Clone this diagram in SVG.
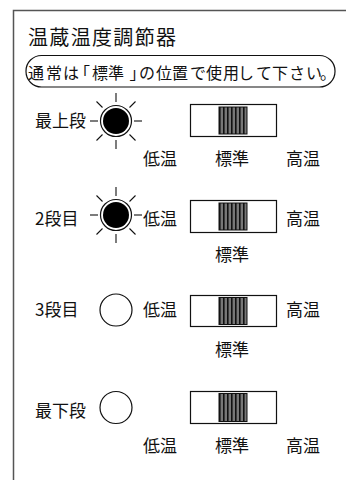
<svg xmlns="http://www.w3.org/2000/svg" width="346" height="480" viewBox="0 0 346 480">
<defs>
<style>
text{font-family:"Noto Sans CJK JP","Noto Sans CJK SC",sans-serif;fill:#111;}
.t17{font-size:17px;}
.frame{fill:none;stroke:#555;stroke-width:1.5;}
.sw{fill:#fff;stroke:#111;stroke-width:1.2;}
.knob{fill:url(#stripes);stroke:#111;stroke-width:1;}
.ray{stroke:#111;stroke-width:1.1;fill:none;}
.lampo{fill:#fff;stroke:#111;stroke-width:1.2;}
</style>
<pattern id="stripes" patternUnits="userSpaceOnUse" x="219" y="0" width="4" height="10">
<rect width="4" height="10" fill="#777"/>
<rect x="0" width="1.6" height="10" fill="#111"/>
</pattern>
<g id="rays">
<line x1="0" y1="-19" x2="0" y2="-28"/>
<line x1="0" y1="19" x2="0" y2="28"/>
<line x1="-18" y1="0" x2="-26" y2="0"/>
<line x1="18" y1="0" x2="26" y2="0"/>
<line x1="-13.5" y1="-13.5" x2="-19.5" y2="-19.5"/>
<line x1="13.5" y1="-13.5" x2="19.5" y2="-19.5"/>
<line x1="-13.5" y1="13.5" x2="-19.5" y2="19.5"/>
<line x1="13.5" y1="13.5" x2="19.5" y2="19.5"/>
</g>
</defs>
<rect width="346" height="480" fill="#fff"/>
<path class="frame" d="M13.5,480 V10.5 H346"/>
<g id="title">
<text x="28" y="45" font-size="20" textLength="148" lengthAdjust="spacing">温蔵温度調節器</text>
</g>
<g id="note">
<rect x="26" y="55.5" width="309" height="31.5" rx="15.5" ry="15.5" fill="none" stroke="#111" stroke-width="1.2"/>
<text y="79" font-size="16" x="28 46 63 74 92 108 129.5 139 156 172 190 206 223 238 256 272 289 306 320">通常は「標準」の位置で使用して下さい。</text>
</g>
<g id="row1">
<text class="t17" x="35" y="127">最上段</text>
<g class="ray" transform="translate(116,121)"><use href="#rays"/></g>
<circle class="lampo" cx="116" cy="121" r="15.5"/>
<circle cx="116" cy="121" r="13" fill="#000"/>
<rect class="sw" x="190.5" y="104.5" width="86" height="32"/>
<rect class="knob" x="219" y="107" width="28" height="27"/>
<text class="t17" x="143" y="165">低温</text>
<text class="t17" x="215" y="165">標準</text>
<text class="t17" x="286" y="165">高温</text>
</g>
<g id="row2">
<text class="t17" x="35" y="225">2段目</text>
<g class="ray" transform="translate(116,215)"><use href="#rays"/></g>
<circle class="lampo" cx="116" cy="215" r="15.5"/>
<circle cx="116" cy="215" r="13" fill="#000"/>
<text class="t17" x="143" y="225">低温</text>
<rect class="sw" x="190.5" y="200.5" width="86" height="32"/>
<rect class="knob" x="219" y="203" width="28" height="27"/>
<text class="t17" x="286" y="225">高温</text>
<text class="t17" x="215" y="261">標準</text>
</g>
<g id="row3">
<text class="t17" x="35" y="316">3段目</text>
<circle class="lampo" cx="116" cy="310" r="16"/>
<text class="t17" x="143" y="316">低温</text>
<rect class="sw" x="190.5" y="295.5" width="86" height="31"/>
<rect class="knob" x="219" y="297.5" width="28" height="27"/>
<text class="t17" x="286" y="316">高温</text>
<text class="t17" x="215" y="356">標準</text>
</g>
<g id="row4">
<text class="t17" x="35" y="417">最下段</text>
<circle class="lampo" cx="116" cy="407.5" r="16"/>
<rect class="sw" x="190.5" y="391.5" width="86" height="32"/>
<rect class="knob" x="219" y="393.5" width="28" height="28"/>
<text class="t17" x="143" y="452">低温</text>
<text class="t17" x="215" y="452">標準</text>
<text class="t17" x="286" y="452">高温</text>
</g>
<g id="connectors"></g>
</svg>
